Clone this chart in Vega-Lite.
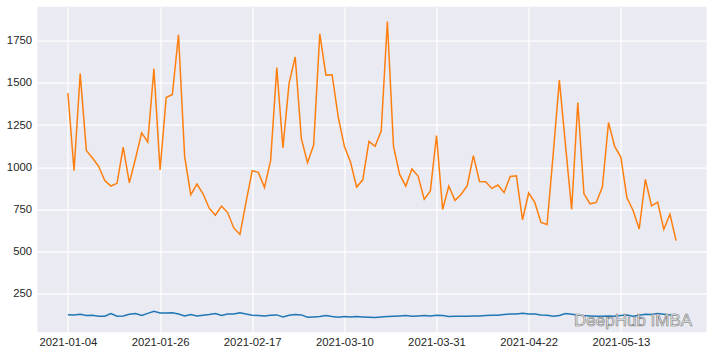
{
  "$schema": "https://vega.github.io/schema/vega-lite/v6.json",
  "width": 669,
  "height": 325.6,
  "autosize": {"type": "none"},
  "padding": {"left": 37.5, "top": 6.7, "right": 7.5, "bottom": 21.7},
  "background": "white",
  "config": {
    "view": {"fill": "#EAEAF2", "stroke": null},
    "axis": {
      "domain": false,
      "ticks": false,
      "grid": true,
      "gridColor": "white",
      "gridWidth": 1.2,
      "labelFont": "Liberation Sans",
      "labelFontSize": 11.3,
      "labelColor": "#262626",
      "title": null
    }
  },
  "datasets": {
    "main": [
      {"i": 0, "d": "2021-01-04", "s1": 127, "s2": 1440},
      {"i": 1, "d": "2021-01-05", "s1": 126, "s2": 980},
      {"i": 2, "d": "2021-01-06", "s1": 130, "s2": 1555},
      {"i": 3, "d": "2021-01-07", "s1": 122, "s2": 1100},
      {"i": 4, "d": "2021-01-08", "s1": 124, "s2": 1055},
      {"i": 5, "d": "2021-01-11", "s1": 118, "s2": 1006},
      {"i": 6, "d": "2021-01-12", "s1": 118, "s2": 922},
      {"i": 7, "d": "2021-01-13", "s1": 134, "s2": 889},
      {"i": 8, "d": "2021-01-14", "s1": 118, "s2": 905},
      {"i": 9, "d": "2021-01-15", "s1": 120, "s2": 1120},
      {"i": 10, "d": "2021-01-19", "s1": 130, "s2": 908},
      {"i": 11, "d": "2021-01-20", "s1": 134, "s2": 1051},
      {"i": 12, "d": "2021-01-21", "s1": 122, "s2": 1204},
      {"i": 13, "d": "2021-01-22", "s1": 135, "s2": 1150},
      {"i": 14, "d": "2021-01-25", "s1": 147, "s2": 1584},
      {"i": 15, "d": "2021-01-26", "s1": 137, "s2": 984},
      {"i": 16, "d": "2021-01-27", "s1": 137, "s2": 1413},
      {"i": 17, "d": "2021-01-28", "s1": 139, "s2": 1431},
      {"i": 18, "d": "2021-01-29", "s1": 131, "s2": 1784},
      {"i": 19, "d": "2021-02-01", "s1": 120, "s2": 1065},
      {"i": 20, "d": "2021-02-02", "s1": 128, "s2": 837},
      {"i": 21, "d": "2021-02-03", "s1": 120, "s2": 901},
      {"i": 22, "d": "2021-02-04", "s1": 124, "s2": 843},
      {"i": 23, "d": "2021-02-05", "s1": 128, "s2": 758},
      {"i": 24, "d": "2021-02-08", "s1": 134, "s2": 716},
      {"i": 25, "d": "2021-02-09", "s1": 122, "s2": 770},
      {"i": 26, "d": "2021-02-10", "s1": 131, "s2": 732},
      {"i": 27, "d": "2021-02-11", "s1": 131, "s2": 641},
      {"i": 28, "d": "2021-02-12", "s1": 139, "s2": 602},
      {"i": 29, "d": "2021-02-16", "s1": 131, "s2": 794},
      {"i": 30, "d": "2021-02-17", "s1": 124, "s2": 980},
      {"i": 31, "d": "2021-02-18", "s1": 122, "s2": 970},
      {"i": 32, "d": "2021-02-19", "s1": 120, "s2": 881},
      {"i": 33, "d": "2021-02-22", "s1": 124, "s2": 1041},
      {"i": 34, "d": "2021-02-23", "s1": 126, "s2": 1590},
      {"i": 35, "d": "2021-02-24", "s1": 114, "s2": 1114},
      {"i": 36, "d": "2021-02-25", "s1": 124, "s2": 1497},
      {"i": 37, "d": "2021-02-26", "s1": 128, "s2": 1653},
      {"i": 38, "d": "2021-03-01", "s1": 126, "s2": 1170},
      {"i": 39, "d": "2021-03-02", "s1": 112, "s2": 1027},
      {"i": 40, "d": "2021-03-03", "s1": 114, "s2": 1132},
      {"i": 41, "d": "2021-03-04", "s1": 116, "s2": 1790},
      {"i": 42, "d": "2021-03-05", "s1": 122, "s2": 1546},
      {"i": 43, "d": "2021-03-08", "s1": 116, "s2": 1548},
      {"i": 44, "d": "2021-03-09", "s1": 112, "s2": 1299},
      {"i": 45, "d": "2021-03-10", "s1": 116, "s2": 1124},
      {"i": 46, "d": "2021-03-11", "s1": 114, "s2": 1031},
      {"i": 47, "d": "2021-03-12", "s1": 116, "s2": 883},
      {"i": 48, "d": "2021-03-15", "s1": 114, "s2": 926},
      {"i": 49, "d": "2021-03-16", "s1": 112, "s2": 1154},
      {"i": 50, "d": "2021-03-17", "s1": 110, "s2": 1124},
      {"i": 51, "d": "2021-03-18", "s1": 114, "s2": 1215},
      {"i": 52, "d": "2021-03-19", "s1": 116, "s2": 1863},
      {"i": 53, "d": "2021-03-22", "s1": 118, "s2": 1124},
      {"i": 54, "d": "2021-03-23", "s1": 120, "s2": 958},
      {"i": 55, "d": "2021-03-24", "s1": 122, "s2": 889},
      {"i": 56, "d": "2021-03-25", "s1": 118, "s2": 990},
      {"i": 57, "d": "2021-03-26", "s1": 120, "s2": 948},
      {"i": 58, "d": "2021-03-29", "s1": 122, "s2": 810},
      {"i": 59, "d": "2021-03-30", "s1": 120, "s2": 860},
      {"i": 60, "d": "2021-03-31", "s1": 124, "s2": 1188},
      {"i": 61, "d": "2021-04-01", "s1": 122, "s2": 750},
      {"i": 62, "d": "2021-04-05", "s1": 116, "s2": 889},
      {"i": 63, "d": "2021-04-06", "s1": 118, "s2": 804},
      {"i": 64, "d": "2021-04-07", "s1": 118, "s2": 839},
      {"i": 65, "d": "2021-04-08", "s1": 118, "s2": 891},
      {"i": 66, "d": "2021-04-09", "s1": 120, "s2": 1069},
      {"i": 67, "d": "2021-04-12", "s1": 120, "s2": 916},
      {"i": 68, "d": "2021-04-13", "s1": 122, "s2": 914},
      {"i": 69, "d": "2021-04-14", "s1": 124, "s2": 875},
      {"i": 70, "d": "2021-04-15", "s1": 124, "s2": 895},
      {"i": 71, "d": "2021-04-16", "s1": 128, "s2": 851},
      {"i": 72, "d": "2021-04-19", "s1": 132, "s2": 946},
      {"i": 73, "d": "2021-04-20", "s1": 132, "s2": 950},
      {"i": 74, "d": "2021-04-21", "s1": 136, "s2": 689},
      {"i": 75, "d": "2021-04-22", "s1": 132, "s2": 848},
      {"i": 76, "d": "2021-04-23", "s1": 132, "s2": 792},
      {"i": 77, "d": "2021-04-26", "s1": 126, "s2": 673},
      {"i": 78, "d": "2021-04-27", "s1": 124, "s2": 661},
      {"i": 79, "d": "2021-04-28", "s1": 118, "s2": 1080},
      {"i": 80, "d": "2021-04-29", "s1": 122, "s2": 1516},
      {"i": 81, "d": "2021-04-30", "s1": 134, "s2": 1130},
      {"i": 82, "d": "2021-05-03", "s1": 130, "s2": 750},
      {"i": 83, "d": "2021-05-04", "s1": 126, "s2": 1384},
      {"i": 84, "d": "2021-05-05", "s1": 122, "s2": 843},
      {"i": 85, "d": "2021-05-06", "s1": 120, "s2": 784},
      {"i": 86, "d": "2021-05-07", "s1": 118, "s2": 792},
      {"i": 87, "d": "2021-05-10", "s1": 118, "s2": 883},
      {"i": 88, "d": "2021-05-11", "s1": 120, "s2": 1265},
      {"i": 89, "d": "2021-05-12", "s1": 118, "s2": 1124},
      {"i": 90, "d": "2021-05-13", "s1": 122, "s2": 1061},
      {"i": 91, "d": "2021-05-14", "s1": 126, "s2": 820},
      {"i": 92, "d": "2021-05-17", "s1": 118, "s2": 744},
      {"i": 93, "d": "2021-05-18", "s1": 124, "s2": 635},
      {"i": 94, "d": "2021-05-19", "s1": 130, "s2": 928},
      {"i": 95, "d": "2021-05-20", "s1": 128, "s2": 772},
      {"i": 96, "d": "2021-05-21", "s1": 134, "s2": 794},
      {"i": 97, "d": "2021-05-24", "s1": 130, "s2": 633},
      {"i": 98, "d": "2021-05-25", "s1": 126, "s2": 722},
      {"i": 99, "d": "2021-05-26", "s1": 128, "s2": 566}
    ],
    "wm": [{"i": 92, "v": 92, "t": "DeepHub IMBA"}]
  },
  "layer": [
    {
      "data": {"name": "main"},
      "transform": [{"fold": ["s1", "s2"], "as": ["series", "value"]}],
      "mark": {"type": "line", "strokeWidth": 1.5, "clip": true},
      "encoding": {
        "x": {
          "field": "i",
          "type": "quantitative",
          "scale": {"domain": [-4.95, 103.95], "nice": false, "zero": false},
          "axis": {
            "values": [0, 15, 30, 45, 60, 75, 90],
            "labelExpr": "['2021-01-04','2021-01-26','2021-02-17','2021-03-10','2021-03-31','2021-04-22','2021-05-13'][round(datum.value / 15)]",
            "labelAngle": 0,
            "labelPadding": 4,
            "labelFlush": false
          }
        },
        "y": {
          "field": "value",
          "type": "quantitative",
          "scale": {"domain": [23, 1951], "nice": false, "zero": false},
          "axis": {
            "values": [250, 500, 750, 1000, 1250, 1500, 1750],
            "format": "d",
            "labelPadding": 6
          }
        },
        "color": {
          "field": "series",
          "type": "nominal",
          "scale": {"domain": ["s1", "s2"], "range": ["#1f77b4", "#ff7f0e"]},
          "legend": null
        }
      }
    },
    {
      "data": {"name": "wm"},
      "mark": {
        "type": "text",
        "font": "Liberation Sans",
        "fontSize": 17,
        "fill": "#f4f4f4",
        "stroke": "#777777",
        "strokeWidth": 0.6,
        "align": "center",
        "baseline": "middle"
      },
      "encoding": {
        "x": {"field": "i", "type": "quantitative"},
        "y": {"field": "v", "type": "quantitative"},
        "text": {"field": "t"}
      }
    }
  ]
}
